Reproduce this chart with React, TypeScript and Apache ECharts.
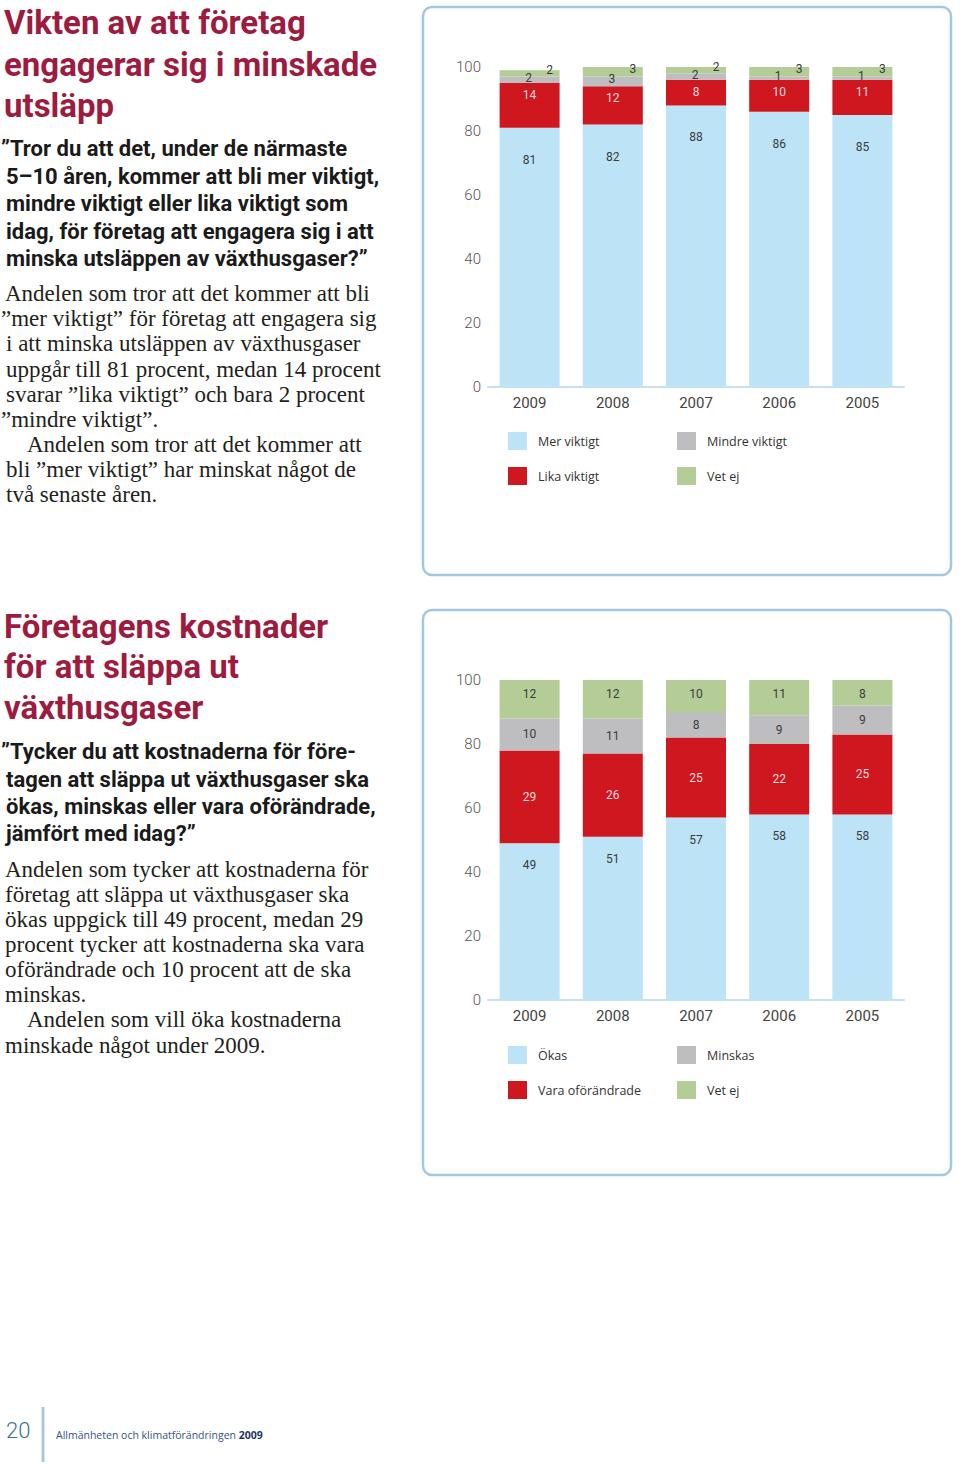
import React, { useEffect, useRef } from "react";
import * as echarts from "echarts";

// ---------- data ----------
const years = ["2009", "2008", "2007", "2006", "2005"];

// Chart 1: Vikten av att företag engagerar sig i minskade utsläpp
const merViktigt = [81, 82, 88, 86, 85];
const likaViktigt = [14, 12, 8, 10, 11];
const mindreViktigt = [2, 3, 2, 1, 1];
const vetEj1 = [2, 3, 2, 3, 3];

// Chart 2: Företagens kostnader för att släppa ut växthusgaser
const okas = [49, 51, 57, 58, 58];
const varaOforandrade = [29, 26, 25, 22, 25];
const minskas = [10, 11, 8, 9, 9];
const vetEj2 = [12, 12, 10, 11, 8];

const yMin = 0;
const yMax = 100;
const yInterval = 20;

// ---------- texts ----------
const title1 = ["Vikten av att företag", "engagerar sig i minskade", "utsläpp"];
const question1 = [
  "\u201DTror du att det, under de närmaste",
  "5\u201310 åren, kommer att bli mer viktigt,",
  "mindre viktigt eller lika viktigt som",
  "idag, för företag att engagera sig i att",
  "minska utsläppen av växthusgaser?\u201D",
];
const body1 = [
  "Andelen som tror att det kommer att bli",
  "\u201Dmer viktigt\u201D för företag att engagera sig",
  "i att minska utsläppen av växthusgaser",
  "uppgår till 81 procent, medan 14 procent",
  "svarar \u201Dlika viktigt\u201D och bara 2 procent",
  "\u201Dmindre viktigt\u201D.",
  "Andelen som tror att det kommer att",
  "bli \u201Dmer viktigt\u201D har minskat något de",
  "två senaste åren.",
];
const title2 = ["Företagens kostnader", "för att släppa ut", "växthusgaser"];
const question2 = [
  "\u201DTycker du att kostnaderna för före-",
  "tagen att släppa ut växthusgaser ska",
  "ökas, minskas eller vara oförändrade,",
  "jämfört med idag?\u201D",
];
const body2 = [
  "Andelen som tycker att kostnaderna för",
  "företag att släppa ut växthusgaser ska",
  "ökas uppgick till 49 procent, medan 29",
  "procent tycker att kostnaderna ska vara",
  "oförändrade och 10 procent att de ska",
  "minskas.",
  "Andelen som vill öka kostnaderna",
  "minskade något under 2009.",
];
const pageNumber = "20";
const footerText = "Allmänheten och klimatförändringen";
const footerYear = "2009";

// ---------- styles ----------
const C_BLUE = "#bde3f6";
const C_RED = "#cf1720";
const C_GRAY = "#bebec0";
const C_GREEN = "#b4cd97";
const C_TITLE = "#9d1b3e";
const C_PANEL = "#a3c7e3";
const C_AXIS = "#c3e2f4";

const SANS = "Roboto, 'Noto Sans', sans-serif";
const SERIF = "'Liberation Serif', 'DejaVu Serif', serif";
const UI = "'Open Sans', 'Noto Sans', sans-serif";

function lines(
  texts: string[],
  xs: number[],
  ys: number[],
  style: Record<string, unknown>
) {
  return texts.map((t, i) => ({
    type: "text",
    x: xs[i],
    y: ys[i],
    silent: true,
    style: { text: t, verticalAlign: "middle", align: "left", ...style },
  }));
}

function buildOption() {
  const labelBase = {
    show: true,
    fontFamily: SANS,
    fontSize: 12,
    color: "#3b3b3b",
  };

  const mkSeries = (
    name: string,
    data: number[],
    color: string,
    idx: number,
    stack: string,
    label: Record<string, unknown>
  ) => ({
    type: "bar",
    name,
    data,
    stack,
    xAxisIndex: idx,
    yAxisIndex: idx,
    barWidth: 60,
    itemStyle: { color },
    label: { ...labelBase, ...label },
    emphasis: { disabled: true },
  });

  const xAxisBase = (gridIndex: number) => ({
    type: "category",
    gridIndex,
    data: years,
    axisLine: { show: true, lineStyle: { color: C_AXIS, width: 2 } },
    axisTick: { show: false },
    axisLabel: { fontFamily: SANS, fontSize: 15, color: "#444", margin: 8 },
  });
  const yAxisBase = (gridIndex: number) => ({
    type: "value",
    gridIndex,
    min: yMin,
    max: yMax,
    interval: yInterval,
    splitLine: { show: false },
    axisLine: { show: false },
    axisTick: { show: false },
    axisLabel: {
      fontFamily: SANS,
      fontSize: 15,
      color: "#555",
      margin: 7,
      fontWeight: 300,
      padding: [4, 0, 0, 0],
    },
  });

  const legendBase = {
    orient: "vertical",
    icon: "rect",
    itemWidth: 19,
    itemHeight: 18,
    itemGap: 17,
    padding: 0,
    selectedMode: false,
    textStyle: { fontFamily: UI, fontSize: 12.5, color: "#333", padding: [0, 0, 0, 6] },
  };

  const graphic: any[] = [
    // panels
    {
      type: "rect",
      silent: true,
      shape: { x: 423, y: 7, width: 528, height: 568, r: 9 },
      style: { fill: "none", stroke: C_PANEL, lineWidth: 2.5 },
    },
    {
      type: "rect",
      silent: true,
      shape: { x: 423, y: 610, width: 528, height: 565, r: 9 },
      style: { fill: "none", stroke: C_PANEL, lineWidth: 2.5 },
    },
    ...lines(title1, [4, 4, 4], [22, 64, 105], {
      fill: C_TITLE,
      fontFamily: SANS,
      fontWeight: "bold",
      fontSize: 33,
    }),
    ...lines(question1, [1, 6, 6, 6, 6], [148, 176, 203, 231, 258], {
      fill: "#1a1a1a",
      fontFamily: SANS,
      fontWeight: "bold",
      fontSize: 22,
    }),
    ...lines(
      body1,
      [5, 1, 6, 6, 6, 1, 27, 6, 6],
      [293, 318, 343, 369, 394, 419, 444, 469, 494],
      { fill: "#231f20", fontFamily: SERIF, fontSize: 23 }
    ),
    ...lines(title2, [4, 4, 4], [626, 666, 707], {
      fill: C_TITLE,
      fontFamily: SANS,
      fontWeight: "bold",
      fontSize: 33,
    }),
    ...lines(question2, [1, 6, 6, 6], [751, 779, 806, 833], {
      fill: "#1a1a1a",
      fontFamily: SANS,
      fontWeight: "bold",
      fontSize: 22,
    }),
    ...lines(
      body2,
      [5, 5, 5, 5, 5, 5, 27, 5],
      [869, 894, 919, 944, 969, 994, 1019, 1045],
      { fill: "#231f20", fontFamily: SERIF, fontSize: 23 }
    ),
    // footer
    {
      type: "text",
      x: 6,
      y: 1430,
      silent: true,
      style: {
        text: pageNumber,
        verticalAlign: "middle",
        fill: "#3d6e9c",
        fontFamily: SANS,
        fontWeight: 300,
        fontSize: 22,
      },
    },
    {
      type: "line",
      silent: true,
      shape: { x1: 43, y1: 1407, x2: 43, y2: 1462 },
      style: { stroke: "#a6c6e1", lineWidth: 3 },
    },
    {
      type: "text",
      x: 56,
      y: 1435,
      silent: true,
      style: {
        text: footerText + " {b|" + footerYear + "}",
        verticalAlign: "middle",
        fill: "#34557d",
        fontFamily: UI,
        fontSize: 10.5,
        rich: {
          b: { fontFamily: UI, fontSize: 10.5, fontWeight: "bold", fill: "#1f3a5f" },
        },
      },
    },
  ];

  return {
    animation: false,
    backgroundColor: "#ffffff",
    grid: [
      { left: 488, top: 67, width: 416, height: 320 },
      { left: 488, top: 680, width: 416, height: 320 },
    ],
    xAxis: [xAxisBase(0), xAxisBase(1)],
    yAxis: [yAxisBase(0), yAxisBase(1)],
    legend: [
      { ...legendBase, data: ["Mer viktigt", "Lika viktigt"], left: 508, top: 432 },
      { ...legendBase, data: ["Mindre viktigt", "Vet ej"], left: 677, top: 432 },
      { ...legendBase, data: ["Ökas", "Vara oförändrade"], left: 508, top: 1046 },
      { ...legendBase, data: ["Minskas", "Vet ej"], left: 677, top: 1046 },
    ],
    series: [
      mkSeries("Mer viktigt", merViktigt, C_BLUE, 0, "a", { position: "insideTop", distance: 26 }),
      mkSeries("Lika viktigt", likaViktigt, C_RED, 0, "a", {
        position: "insideTop",
        distance: 6,
        color: "#f7dada",
      }),
      mkSeries("Mindre viktigt", mindreViktigt, C_GRAY, 0, "a", {
        position: "inside",
        offset: [-1, -2],
      }),
      mkSeries("Vet ej", vetEj1, C_GREEN, 0, "a", { position: "inside", offset: [20, -3] }),

      mkSeries("Ökas", okas, C_BLUE, 1, "b", { position: "insideTop", distance: 16 }),
      mkSeries("Vara oförändrade", varaOforandrade, C_RED, 1, "b", {
        position: "inside",
        color: "#f7dada",
      }),
      mkSeries("Minskas", minskas, C_GRAY, 1, "b", { position: "inside" }),
      mkSeries("Vet ej", vetEj2, C_GREEN, 1, "b", { position: "insideTop", distance: 8 }),
    ],
    graphic,
  };
}

export default function App() {
  const ref = useRef<HTMLDivElement>(null);
  useEffect(() => {
    if (!ref.current) return;
    const chart = echarts.init(ref.current, null, { renderer: "svg" });
    chart.setOption(buildOption() as any);
    return () => chart.dispose();
  }, []);
  return (
    <div
      ref={ref}
      style={{ position: "absolute", left: 0, top: 0, width: 960, height: 1465, background: "#fff" }}
    />
  );
}
